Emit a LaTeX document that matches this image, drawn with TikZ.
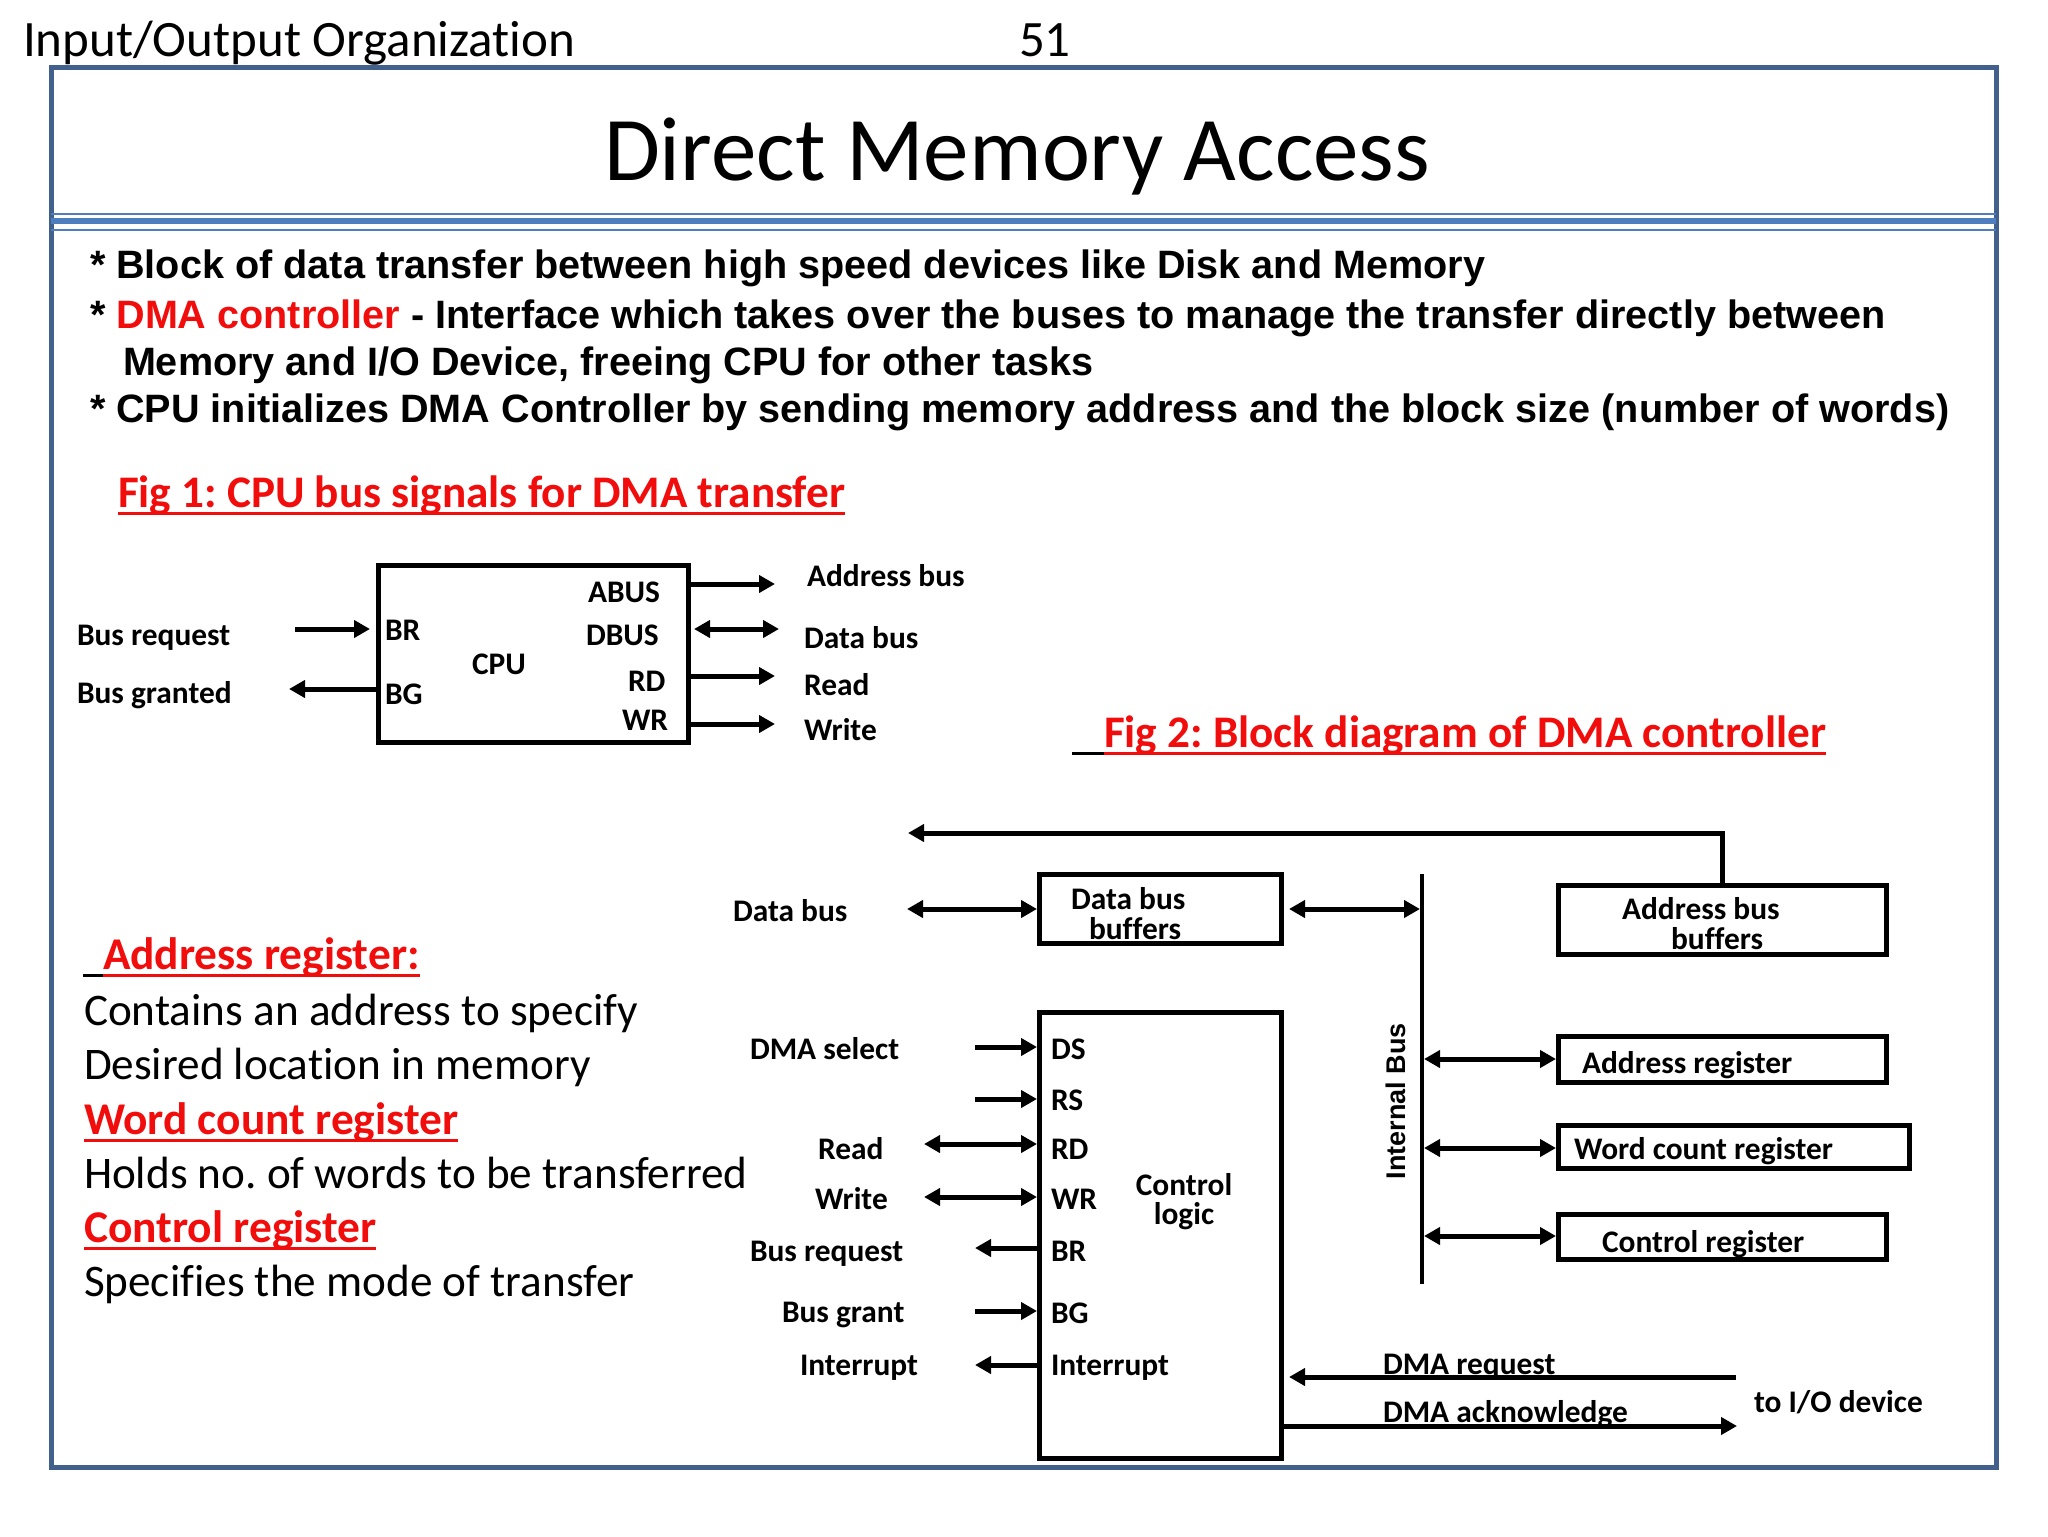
\documentclass[tikz,border=0pt]{standalone}
\usepackage{fontspec}
\setmainfont{Carlito}[Ligatures={NoCommon}]
\newfontfamily\arialfont{Liberation Sans}
\usetikzlibrary{arrows.meta}
\definecolor{frameblue}{HTML}{41618C}
\definecolor{lineblue}{HTML}{4F7EBE}
\definecolor{hred}{HTML}{F20D0D}
\frenchspacing
\begin{document}
\begin{tikzpicture}[x=0.5pt,y=-0.5pt,
  txt/.style={inner sep=0,outer sep=0,anchor=base west},
  lbl/.style={txt,font=\fontsize{15.7}{18}\selectfont\bfseries},
  body/.style={txt,font=\fontsize{22.6}{26}\selectfont},
  redhead/.style={txt,text=hred,font=\fontsize{22.7}{26}\selectfont\bfseries},
  bullet/.style={txt,font=\arialfont\fontsize{19.8}{23}\selectfont\bfseries},
  box/.style={draw,line width=2.5pt,inner sep=0,outer sep=0,anchor=north west},
  sig/.style={line width=2.5pt,-{Triangle[length=8pt,width=8.5pt]}},
  bisig/.style={line width=2.5pt,{Triangle[length=8pt,width=8.5pt]}-{Triangle[length=8pt,width=8.5pt]}},
  uline/.style={line width=1.5pt}]
\useasboundingbox[fill=white] (0,0) rectangle (2048,1536);

% header
\node[txt,font=\fontsize{25.5}{30}\selectfont] (hdr) at (23,57) {Input/Output Organization};
\node[txt,font=\fontsize{25.5}{30}\selectfont] (pg) at (1019,57) {51};

% frame
\draw[frameblue,line width=2.5pt] (51,68) rectangle (1996,1467);
\node[inner sep=0,anchor=base,font=\fontsize{45.5}{52}\selectfont] (title) at (1017,180) {Direct Memory Access};
\draw[lineblue,line width=1pt] (51,214) -- (1996,214);
\draw[lineblue,line width=3pt] (51,220.5) -- (1996,220.5);
\draw[lineblue,line width=1pt] (51,230) -- (1996,230);

% bullets
\node[bullet] (b1) at (90,278) {* Block of data transfer between high speed devices like Disk and Memory};
\node[bullet] (b2) at (90,328) {* \textcolor{hred}{DMA controller} - Interface which takes over the buses to manage the transfer directly between};
\node[bullet] (b3) at (123,375) {Memory and I/O Device, freeing CPU for other tasks};
\node[bullet] (b4) at (90,422) {* CPU initializes DMA Controller by sending memory address and the block size (number of words)};

% Fig 1 heading
\node[txt,text=hred,font=\fontsize{22.6}{26}\selectfont\bfseries] (fig1) at (118,507) {Fig 1: CPU bus signals for DMA transfer};
\draw[hred,uline] ([yshift=-3pt]fig1.base west) -- ([yshift=-3pt]fig1.base east);

% Fig 1 CPU
\node[box,minimum width=155pt,minimum height=88.5pt] (cpu) at (378,565) {};
\node[lbl] (abus) at (588,602) {ABUS};
\node[lbl] (dbus) at (586,645) {DBUS};
\node[lbl] (rd1) at (628,691) {RD};
\node[lbl] (wr1) at (622,730) {WR};
\node[lbl] (br1) at (385,640) {BR};
\node[lbl] (bg1) at (385,704) {BG};
\node[lbl] (cpul) at (472,674) {CPU};
\node[lbl] (busreq1) at (77,645) {Bus request};
\node[lbl] (busgr1) at (77,703) {Bus granted};
\node[lbl] (abl) at (807,586) {Address bus};
\node[lbl] (dbl) at (804,648) {Data bus};
\node[lbl] (rdl) at (804,695) {Read};
\node[lbl] (wrl) at (804,740) {Write};
\draw[sig] (295,629) -- (370,629);
\draw[sig] (376,689) -- (289,689);
\draw[sig] (691,584) -- (775,584);
\draw[bisig] (694,629) -- (779,629);
\draw[sig] (691,676) -- (775,676);
\draw[sig] (691,724) -- (775,724);

% Fig 2 heading
\node[txt,text=hred,font=\fontsize{22.6}{26}\selectfont\bfseries] (fig2) at (1104,747) {Fig 2: Block diagram of DMA controller};
\draw[hred,uline] ([yshift=-3pt]fig2.base west) -- ([yshift=-3pt]fig2.base east);
\draw[uline] ([xshift=-16pt,yshift=-3pt]fig2.base west) -- ([yshift=-3pt]fig2.base west);

% Fig 2 boxes
\node[box,minimum width=121pt,minimum height=34.5pt] (dbb) at (1039.5,874.5) {};
\node[box,minimum width=164pt,minimum height=34.5pt] (abb) at (1558.5,885.5) {};
\node[box,minimum width=121pt,minimum height=223pt] (ctl) at (1039.5,1012.5) {};
\node[box,minimum width=164pt,minimum height=23pt] (areg) at (1558.5,1036.5) {};
\node[box,minimum width=175.5pt,minimum height=21.5pt] (wreg) at (1558.5,1125.5) {};
\node[box,minimum width=164pt,minimum height=22.5pt] (creg) at (1558.5,1214.5) {};

\node[lbl] (dbb1) at (1071,909) {Data bus};
\node[lbl] (dbb2) at (1089,939) {buffers};
\node[lbl] (abb1) at (1622,919) {Address bus};
\node[lbl] (abb2) at (1671,949) {buffers};
\node[lbl] (aregl) at (1582,1073) {Address register};
\node[lbl] (wregl) at (1574,1159) {Word count register};
\node[lbl] (cregl) at (1602,1252) {Control register};

\node[lbl] (ds) at (1051,1059) {DS};
\node[lbl] (rs) at (1051,1110) {RS};
\node[lbl] (rd2) at (1051,1159) {RD};
\node[lbl] (wr2) at (1051,1209) {WR};
\node[lbl] (br2) at (1051,1261) {BR};
\node[lbl] (bg2) at (1051,1323) {BG};
\node[lbl] (int2) at (1051,1375) {Interrupt};
\node[lbl,anchor=base] (ctl1) at (1184,1195) {Control};
\node[lbl,anchor=base] (ctl2) at (1184,1224) {logic};

\node[lbl] (dbl2) at (733,921) {Data bus};
\node[lbl] (dmasel) at (750,1059) {DMA select};
\node[lbl] (read2) at (818,1159) {Read};
\node[lbl] (write2) at (815,1209) {Write};
\node[lbl] (busreq2) at (750,1261) {Bus request};
\node[lbl] (busgr2) at (782,1322) {Bus grant};
\node[lbl] (intl) at (800,1375) {Interrupt};
\node[lbl] (dmareq) at (1383,1374) {DMA request};
\node[lbl] (dmaack) at (1383,1422) {DMA acknowledge};
\node[lbl] (toio) at (1754,1412) {to I/O device};

\node[inner sep=0,rotate=90,font=\arialfont\fontsize{13.5}{16}\selectfont\bfseries] (ibus) at (1396,1101) {Internal Bus};

% Fig 2 connectors
\draw[sig] (abb.north) |- (908,833);
\draw[bisig] (907,909) -- (1037,909);
\draw[bisig] (1289,909) -- (1420,909);
\draw[line width=2pt] (1422,874) -- (1422,1284);
\draw[bisig] (1424,1059) -- (1556,1059);
\draw[bisig] (1424,1148) -- (1556,1148);
\draw[bisig] (1424,1236) -- (1556,1236);
\draw[sig] (975,1047) -- (1037,1047);
\draw[sig] (975,1099) -- (1037,1099);
\draw[bisig] (924,1144) -- (1037,1144);
\draw[bisig] (924,1197) -- (1037,1197);
\draw[sig] (1037,1248) -- (975,1248);
\draw[sig] (975,1311) -- (1037,1311);
\draw[sig] (1037,1365) -- (975,1365);
\draw[sig] (1736,1377) -- (1289,1377);
\draw[sig] (1284,1426) -- (1737,1426);

% left text
\node[redhead] (areghd) at (103,969) {Address register:};
\draw[hred,uline] ([yshift=-3pt]areghd.base west) -- ([yshift=-3pt]areghd.base east);
\draw[uline] ([xshift=-10pt,yshift=-3pt]areghd.base west) -- ([yshift=-3pt]areghd.base west);
\node[body] (t1) at (84,1025) {Contains an address to specify};
\node[body] (t2) at (84,1079) {Desired location in memory};
\node[redhead] (wreghd) at (84,1134) {Word count register};
\draw[hred,uline] ([yshift=-3pt]wreghd.base west) -- ([yshift=-3pt]wreghd.base east);
\node[body] (t3) at (84,1188) {Holds no. of words to be transferred};
\node[redhead] (creghd) at (84,1242) {Control register};
\draw[hred,uline] ([yshift=-3pt]creghd.base west) -- ([yshift=-3pt]creghd.base east);
\node[body] (t4) at (84,1296) {Specifies the mode of transfer};
\end{tikzpicture}
\end{document}
